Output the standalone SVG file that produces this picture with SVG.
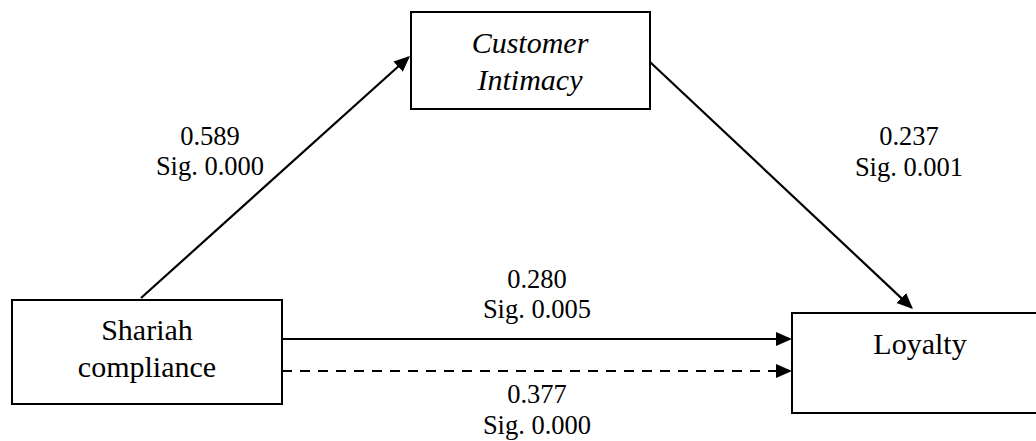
<svg xmlns="http://www.w3.org/2000/svg" width="1036" height="441" viewBox="0 0 1036 441">
  <defs>
    <style>
      .box { fill: #ffffff; stroke: #000000; stroke-width: 2; }
      .node { font-family: "Liberation Serif", "Times New Roman", serif; font-size: 30px; fill: #000000; text-anchor: middle; }
      .ital { font-style: italic; }
      .lbl { font-family: "Liberation Serif", "Times New Roman", serif; font-size: 26.5px; fill: #000000; text-anchor: middle; }
      .edge { stroke: #000000; stroke-width: 2.2; fill: none; marker-end: url(#arrow); }
      .dash { stroke-dasharray: 10 8; }
    </style>
    <marker id="arrow" markerUnits="userSpaceOnUse" markerWidth="18" markerHeight="16" refX="14" refY="7" orient="auto">
      <path d="M0,0 L16,7 L0,14 Z" fill="#000000"/>
    </marker>
  </defs>
  <rect width="1036" height="441" fill="#ffffff"/>

  <g id="connectors">
    <line class="edge" x1="141" y1="298" x2="408.5" y2="57.3"/>
    <line class="edge" x1="650" y1="62" x2="911.5" y2="307.6"/>
    <line class="edge" x1="282" y1="339" x2="790" y2="339"/>
    <line class="edge dash" x1="282" y1="371" x2="790" y2="371"/>
  </g>

  <g id="node-customer-intimacy">
    <rect class="box" x="411" y="12" width="239" height="97"/>
    <text class="node ital" x="530" y="53">Customer</text>
    <text class="node ital" x="530" y="90">Intimacy</text>
  </g>

  <g id="node-shariah">
    <rect class="box" x="12" y="300" width="270" height="104"/>
    <text class="node" x="147" y="340">Shariah</text>
    <text class="node" x="147" y="377">compliance</text>
  </g>

  <g id="node-loyalty">
    <rect class="box" x="792" y="313" width="260" height="100"/>
    <text class="node" x="920" y="354">Loyalty</text>
  </g>

  <g id="labels">
    <text class="lbl" x="210" y="145">0.589</text>
    <text class="lbl" x="210" y="175">Sig. 0.000</text>
    <text class="lbl" x="909" y="145">0.237</text>
    <text class="lbl" x="909" y="176">Sig. 0.001</text>
    <text class="lbl" x="537" y="288">0.280</text>
    <text class="lbl" x="537" y="318">Sig. 0.005</text>
    <text class="lbl" x="537" y="403">0.377</text>
    <text class="lbl" x="537" y="434">Sig. 0.000</text>
  </g>
</svg>
